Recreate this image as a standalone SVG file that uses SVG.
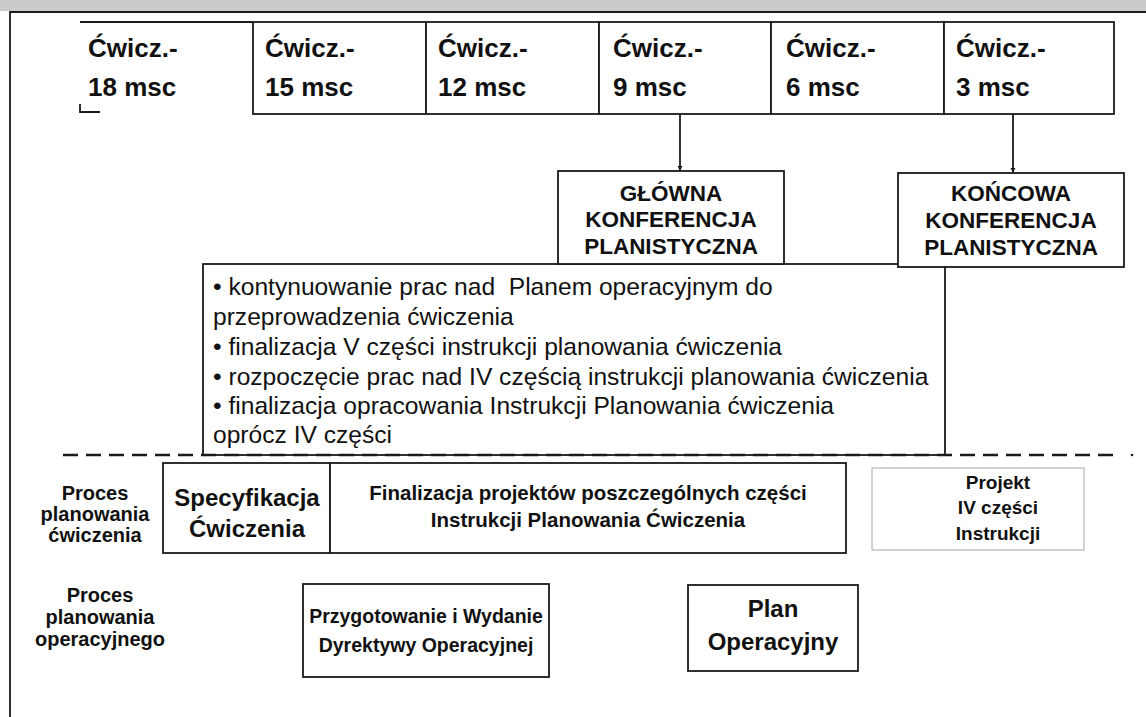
<svg xmlns="http://www.w3.org/2000/svg" width="1146" height="717" viewBox="0 0 1146 717">
  <style>
    .frame { fill: none; stroke: #1a1a1a; stroke-width: 1.8; }
    .box { fill: #ffffff; stroke: #1a1a1a; stroke-width: 1.8; }
    .faint { fill: #ffffff; stroke: #b5b5b5; stroke-width: 1.2; }
    .edge { fill: none; stroke: #1a1a1a; stroke-width: 1.8; }
    .dash { fill: none; stroke: #1a1a1a; stroke-width: 2.4; stroke-dasharray: 15 8; }
    text { font-family: "Liberation Sans", Arial, sans-serif; fill: #111111; }
    .month { font-size: 26px; font-weight: bold; }
    .conf { font-size: 22.5px; font-weight: bold; text-anchor: middle; }
    .bullets { font-size: 24.6px; }
    .lane { font-size: 20px; font-weight: bold; text-anchor: middle; }
    .task { font-weight: bold; text-anchor: middle; }
  </style>
  <defs>
    <marker id="tip" viewBox="0 0 6 6" refX="5" refY="3" markerWidth="3" markerHeight="3" orient="auto">
      <path d="M0,0 L6,3 L0,6 z" fill="#1a1a1a"/>
    </marker>
  </defs>

  <!-- page background and scanned top edge -->
  <rect x="0" y="0" width="1146" height="717" fill="#ffffff"/>
  <rect x="0" y="0" width="1146" height="11" fill="#cbcbcb"/>
  <path class="frame" d="M10,717 V12 H1146"/>

  <!-- timeline of exercise milestones -->
  <g id="m18">
    <path class="edge" d="M80,22 H253 M80,104 V112 H100"/>
    <text class="month" x="88" y="57">Ćwicz.-</text>
    <text class="month" x="88" y="96">18 msc</text>
  </g>
  <g id="m15">
    <rect class="box" x="253" y="22" width="173" height="92"/>
    <text class="month" x="265" y="57">Ćwicz.-</text>
    <text class="month" x="265" y="96">15 msc</text>
  </g>
  <g id="m12">
    <rect class="box" x="426" y="22" width="173" height="92"/>
    <text class="month" x="438" y="57">Ćwicz.-</text>
    <text class="month" x="438" y="96">12 msc</text>
  </g>
  <g id="m9">
    <rect class="box" x="599" y="22" width="172" height="92"/>
    <text class="month" x="613" y="57">Ćwicz.-</text>
    <text class="month" x="613" y="96">9 msc</text>
  </g>
  <g id="m6">
    <rect class="box" x="771" y="22" width="173" height="92"/>
    <text class="month" x="786" y="57">Ćwicz.-</text>
    <text class="month" x="786" y="96">6 msc</text>
  </g>
  <g id="m3">
    <rect class="box" x="944" y="22" width="170" height="92"/>
    <text class="month" x="956" y="57">Ćwicz.-</text>
    <text class="month" x="956" y="96">3 msc</text>
  </g>

  <!-- connectors from milestones to conferences -->
  <g id="connectors">
    <line class="edge" x1="680" y1="114" x2="680" y2="170" marker-end="url(#tip)"/>
    <line class="edge" x1="1013" y1="114" x2="1013" y2="172" marker-end="url(#tip)"/>
  </g>

  <!-- activities box -->
  <g id="activities">
    <rect class="box" x="203" y="264" width="742" height="191"/>
    <text class="bullets" x="213" y="295" xml:space="preserve">• kontynuowanie prac nad  Planem operacyjnym do</text>
    <text class="bullets" x="213" y="325">przeprowadzenia ćwiczenia</text>
    <text class="bullets" x="213" y="355">• finalizacja V części instrukcji planowania ćwiczenia</text>
    <text class="bullets" x="213" y="385">• rozpoczęcie prac nad IV częścią instrukcji planowania ćwiczenia</text>
    <text class="bullets" x="213" y="414">• finalizacja opracowania Instrukcji Planowania ćwiczenia</text>
    <text class="bullets" x="213" y="443">oprócz IV części</text>
  </g>

  <g id="main-conf">
    <rect class="box" x="558" y="171" width="226" height="93"/>
    <text class="conf" x="671" y="201">GŁÓWNA</text>
    <text class="conf" x="671" y="227">KONFERENCJA</text>
    <text class="conf" x="671" y="254">PLANISTYCZNA</text>
  </g>
  <g id="final-conf">
    <rect class="box" x="898" y="173" width="226" height="94"/>
    <text class="conf" x="1011" y="201">KOŃCOWA</text>
    <text class="conf" x="1011" y="228">KONFERENCJA</text>
    <text class="conf" x="1011" y="255">PLANISTYCZNA</text>
  </g>

  <!-- divider between timeline and planning processes -->
  <path class="dash" d="M63,455 H1120"/>
  <circle cx="1132" cy="455" r="1.3" fill="#1a1a1a"/>

  <!-- exercise planning lane -->
  <g id="lane-exercise">
    <text class="lane" x="95" y="500">Proces</text>
    <text class="lane" x="95" y="521">planowania</text>
    <text class="lane" x="95" y="542">ćwiczenia</text>
  </g>
  <g id="spec">
    <rect class="box" x="163" y="463" width="167" height="90"/>
    <text class="task" style="font-size:24px" x="247" y="506">Specyfikacja</text>
    <text class="task" style="font-size:24px" x="247" y="537">Ćwiczenia</text>
  </g>
  <g id="final-parts">
    <rect class="box" x="330" y="463" width="516" height="90"/>
    <text class="task" style="font-size:20.5px" x="588" y="500">Finalizacja projektów poszczególnych części</text>
    <text class="task" style="font-size:20.5px" x="588" y="527">Instrukcji Planowania Ćwiczenia</text>
  </g>
  <g id="part4">
    <rect class="faint" x="872" y="468" width="212" height="82"/>
    <text class="task" style="font-size:19px" x="998" y="489">Projekt</text>
    <text class="task" style="font-size:19px" x="998" y="514">IV części</text>
    <text class="task" style="font-size:19px" x="998" y="540">Instrukcji</text>
  </g>

  <!-- operational planning lane -->
  <g id="lane-operational">
    <text class="lane" x="100" y="602">Proces</text>
    <text class="lane" x="100" y="624">planowania</text>
    <text class="lane" x="100" y="646">operacyjnego</text>
  </g>
  <g id="directive">
    <rect class="box" x="303" y="584" width="246" height="93"/>
    <text class="task" style="font-size:19.5px" x="426" y="623">Przygotowanie i Wydanie</text>
    <text class="task" style="font-size:19.5px" x="426" y="652">Dyrektywy Operacyjnej</text>
  </g>
  <g id="opplan">
    <rect class="box" x="688" y="585" width="170" height="86"/>
    <text class="task" style="font-size:24px" x="773" y="617">Plan</text>
    <text class="task" style="font-size:24px" x="773" y="650">Operacyjny</text>
  </g>
</svg>
